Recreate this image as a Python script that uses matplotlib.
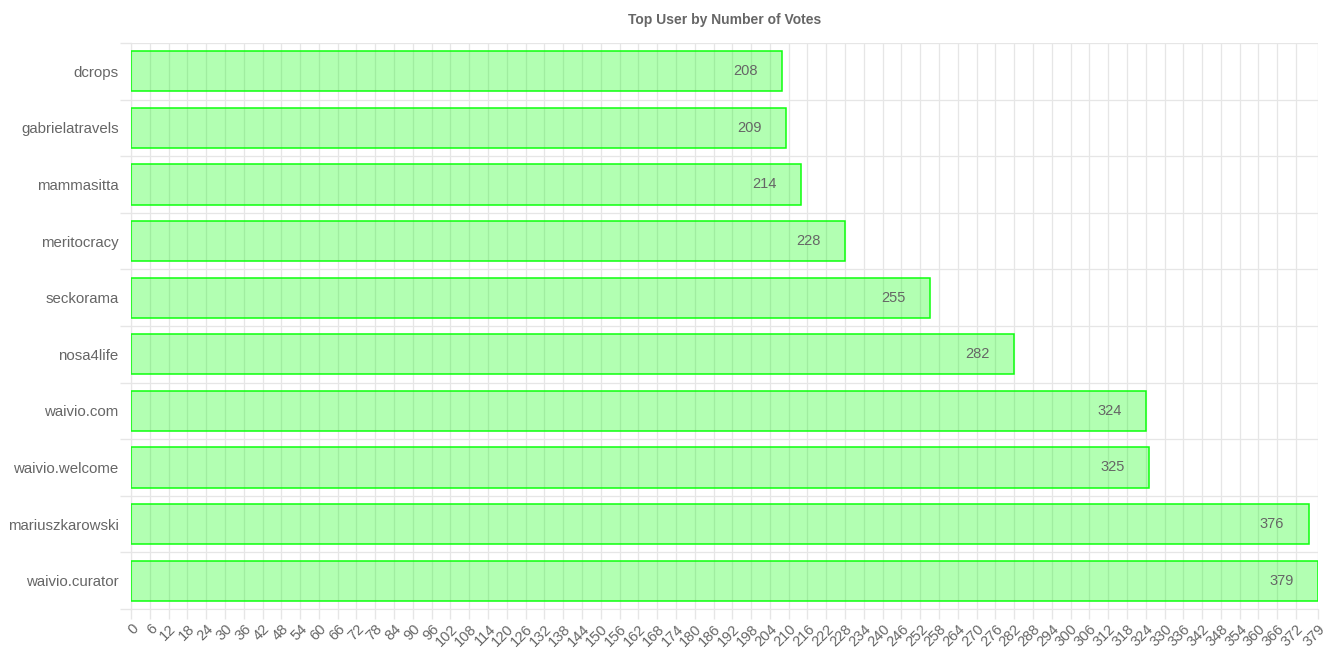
import matplotlib
matplotlib.use("Agg")
import matplotlib.pyplot as plt
import numpy as np

users = ["dcrops", "gabrielatravels", "mammasitta", "meritocracy", "seckorama",
         "nosa4life", "waivio.com", "waivio.welcome", "mariuszkarowski", "waivio.curator"]
votes = [208, 209, 214, 228, 255, 282, 324, 325, 376, 379]
x_ticks = list(range(0, 373, 6)) + [379]
x_tick_labels = [str(t) for t in x_ticks]

plt.rcParams['font.family'] = ['Liberation Sans', 'DejaVu Sans']

fig = plt.figure(figsize=(13.27, 6.63), dpi=100)
ax = fig.add_axes([131/1327, 1 - 609/663, (1318-131)/1327, (609-43)/663])

ypos = np.arange(len(users))
ax.barh(ypos, votes, height=0.71, color=(0, 1, 0, 0.3), edgecolor=(0.05, 1, 0.05, 1),
        linewidth=1.1, zorder=3)

for y, v in zip(ypos, votes):
    ax.annotate(str(v), xy=(v, y), xytext=(-17.5, 0), textcoords="offset points",
                ha="right", va="center", fontsize=10.5, color="#666666", zorder=4)

ax.set_xlim(0, 379)
ax.set_ylim(len(users) - 0.5, -0.5)
ax.set_xticks(x_ticks)
ax.set_xticklabels(x_tick_labels, rotation=45, ha="right", rotation_mode="anchor",
                   fontsize=10.5, color="#666666")
ax.set_yticks(ypos)
ax.set_yticklabels(users, fontsize=10.8, color="#666666")
ax.set_yticks(np.arange(-0.5, len(users), 1), minor=True)

ax.tick_params(axis="y", which="major", length=0, pad=9)
ax.tick_params(axis="y", which="minor", length=8, color="#e6e6e6", width=1)
ax.tick_params(axis="x", which="major", length=7, color="#e6e6e6", width=1, pad=2)

ax.grid(axis="x", which="major", color="#e6e6e6", linewidth=0.9, zorder=0)
ax.grid(axis="y", which="minor", color="#e6e6e6", linewidth=0.9, zorder=0)
ax.set_axisbelow(False)
for s in ["top", "right"]:
    ax.spines[s].set_visible(False)
ax.spines["left"].set_color("#cccccc")
ax.spines["bottom"].set_color("#e6e6e6")

fig.text((131+1318)/2/1327, 1 - 20/663, "Top User by Number of Votes", ha="center",
         va="center", fontsize=10, fontweight="bold", color="#666666")

fig.savefig("out.png", dpi=100)
